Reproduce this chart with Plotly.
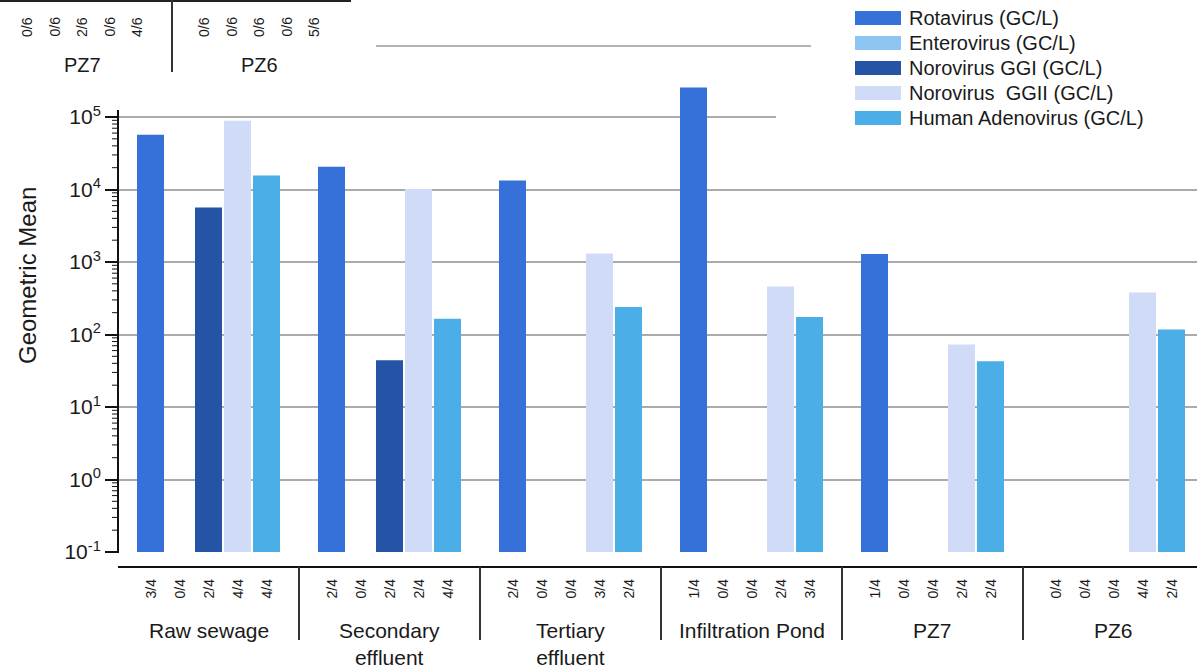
import math
import plotly.graph_objects as go

# ---- data -------------------------------------------------------------
sites = ["Raw sewage", "Secondary effluent", "Tertiary effluent",
         "Infiltration Pond", "PZ7", "PZ6"]
site_labels = ["Raw sewage", "Secondary<br>effluent", "Tertiary<br>effluent",
               "Infiltration Pond", "PZ7", "PZ6"]

series_names = ["Rotavirus (GC/L)", "Enterovirus (GC/L)", "Norovirus GGI (GC/L)",
                "Norovirus  GGII (GC/L)", "Human Adenovirus (GC/L)"]

rotavirus = [5.7e4, 2.06e4, 1.33e4, 2.55e5, 1.29e3, None]
enterovirus = [None, None, None, None, None, None]
norovirus_ggi = [5.65e3, 44, None, None, None, None]
norovirus_ggii = [8.9e4, 1.02e4, 1.31e3, 459, 73, 380]
adenovirus = [1.56e4, 165, 239, 175, 42.6, 117]

rotavirus_pos = ["3/4", "2/4", "2/4", "1/4", "1/4", "0/4"]
enterovirus_pos = ["0/4", "0/4", "0/4", "0/4", "0/4", "0/4"]
norovirus_ggi_pos = ["2/4", "2/4", "0/4", "0/4", "0/4", "0/4"]
norovirus_ggii_pos = ["4/4", "2/4", "3/4", "2/4", "2/4", "4/4"]
adenovirus_pos = ["4/4", "4/4", "2/4", "3/4", "2/4", "2/4"]

# fragment of the panel above (PZ7 / PZ6, n = 6)
upper_groups = ["PZ7", "PZ6"]
upper_pz7_pos = ["0/6", "0/6", "2/6", "0/6", "4/6"]
upper_pz6_pos = ["0/6", "0/6", "0/6", "0/6", "5/6"]

y_tick_exp = [-1, 0, 1, 2, 3, 4, 5]

values = [rotavirus, enterovirus, norovirus_ggi, norovirus_ggii, adenovirus]
positives = [rotavirus_pos, enterovirus_pos, norovirus_ggi_pos,
             norovirus_ggii_pos, adenovirus_pos]
colors = ["#3571d9", "#8cc5f2", "#2554a6", "#d0dcf7", "#4baee7"]

# ---- geometry ---------------------------------------------------------
W, H = 1197, 668
ML, MR, MT, MB = 118, 0, 70, 116
PW, PH = W - ML - MR, H - MT - MB
GROUP_PX = 181.0          # pixels per site group
DECADE_PX = 72.5          # pixels per decade on the y axis
SLOT = 29.0 / GROUP_PX    # distance between neighbouring bars
BAR_W = 27.0 / GROUP_PX   # bar width
Y_MIN = y_tick_exp[0]
Y_MAX = Y_MIN + PH / DECADE_PX


def px(x):
    return (x - ML) / PW


def py(y):
    return (H - MB - y) / PH


def ylog(v):
    """paper y of a data value on the log axis"""
    return (math.log10(v) - Y_MIN) / (Y_MAX - Y_MIN)


FONT = "Liberation Sans, Arial, sans-serif"
TXT = "#1a1a1a"

fig = go.Figure()
for i, (name, vals, col) in enumerate(zip(series_names, values, colors)):
    fig.add_trace(go.Bar(
        x=sites, y=vals, name=name,
        marker=dict(color=col, line=dict(width=0)),
        offset=(i - 2) * SLOT - BAR_W / 2, width=BAR_W,
        showlegend=False,
    ))

annotations = []
shapes = []

# detection counts under each bar slot
for i, pos in enumerate(positives):
    for k, lab in enumerate(pos):
        annotations.append(dict(
            x=k + (i - 2) * SLOT, xref="x", y=py(589), yref="paper",
            text=lab, textangle=-90, showarrow=False,
            xanchor="center", yanchor="middle",
            font=dict(size=14, family=FONT, color=TXT)))

# site labels
for k, lab in enumerate(site_labels):
    annotations.append(dict(
        x=k, xref="x", y=py(617), yref="paper", text=lab, showarrow=False,
        xanchor="center", yanchor="top", align="center",
        font=dict(size=21, family=FONT, color=TXT)))

# x-axis line and group separators
shapes.append(dict(type="line", xref="paper", yref="paper",
                   x0=0, x1=1, y0=py(567), y1=py(567),
                   line=dict(color="#111111", width=2)))
for k in range(len(sites) - 1):
    shapes.append(dict(type="line", xref="x", yref="paper",
                       x0=k + 0.5, x1=k + 0.5, y0=py(567), y1=py(640),
                       line=dict(color="#333333", width=2)))

# y-axis line with log minor ticks (stop just above the top decade)
shapes.append(dict(type="line", xref="paper", yref="paper",
                   x0=0, x1=0, y0=py(553), y1=py(110),
                   line=dict(color="#111111", width=2)))
for e in y_tick_exp[:-1]:
    for d in range(2, 10):
        yv = ylog(d * 10.0 ** e)
        shapes.append(dict(type="line", xref="paper", yref="paper",
                           x0=px(ML - 6), x1=0, y0=yv, y1=yv,
                           line=dict(color="#111111", width=1)))

# y-axis title
annotations.append(dict(
    x=px(27), xref="paper", y=py(276), yref="paper",
    text="Geometric Mean", textangle=-90, showarrow=False,
    xanchor="center", yanchor="middle",
    font=dict(size=24, family=FONT, color=TXT)))

# legend box
shapes.append(dict(type="rect", xref="paper", yref="paper", layer="above",
                   x0=px(776), x1=px(W), y0=py(0), y1=py(148),
                   fillcolor="white", line=dict(width=0)))
for i, (name, col) in enumerate(zip(series_names, colors)):
    yc = 18 + 25 * i
    shapes.append(dict(type="rect", xref="paper", yref="paper", layer="above",
                       x0=px(855), x1=px(901), y0=py(yc - 7), y1=py(yc + 7),
                       fillcolor=col, line=dict(width=0)))
    annotations.append(dict(
        x=px(907), xref="paper", y=py(yc), yref="paper", text=name,
        showarrow=False, xanchor="left", yanchor="middle",
        font=dict(size=20, family=FONT, color=TXT)))

# upper panel fragment
shapes.append(dict(type="line", xref="paper", yref="paper", layer="above",
                   x0=px(0), x1=px(351), y0=py(1), y1=py(1),
                   line=dict(color="#222222", width=2)))
shapes.append(dict(type="line", xref="paper", yref="paper", layer="above",
                   x0=px(172), x1=px(172), y0=py(0), y1=py(72),
                   line=dict(color="#333333", width=2)))
shapes.append(dict(type="line", xref="paper", yref="paper", layer="above",
                   x0=px(376), x1=px(811), y0=py(46), y1=py(46),
                   line=dict(color="#b4b4b4", width=2)))
upper_centers = [82, 259]
for g, (grp, pos) in enumerate(zip(upper_groups, [upper_pz7_pos, upper_pz6_pos])):
    for i, lab in enumerate(pos):
        annotations.append(dict(
            x=px(upper_centers[g] + (i - 2) * 27.5), xref="paper",
            y=py(27), yref="paper", text=lab, textangle=-90, showarrow=False,
            xanchor="center", yanchor="middle",
            font=dict(size=14, family=FONT, color=TXT)))
    annotations.append(dict(
        x=px(upper_centers[g]), xref="paper", y=py(65), yref="paper",
        text=grp, showarrow=False, xanchor="center", yanchor="middle",
        font=dict(size=20, family=FONT, color=TXT)))

fig.update_layout(
    width=W, height=H,
    margin=dict(l=ML, r=MR, t=MT, b=MB, pad=0),
    paper_bgcolor="white", plot_bgcolor="white",
    barmode="overlay",
    font=dict(family=FONT, color=TXT),
    xaxis=dict(
        type="category", range=[-0.5, -0.5 + PW / GROUP_PX],
        showticklabels=False, ticks="", showgrid=False, showline=False,
        zeroline=False, fixedrange=True),
    yaxis=dict(
        type="log", range=[Y_MIN, Y_MAX],
        tickmode="array",
        tickvals=[10.0 ** e for e in y_tick_exp],
        ticktext=["10<sup>%s</sup>" % ("-" + str(-e) if e < 0 else str(e))
                  for e in y_tick_exp],
        ticks="outside", ticklen=12, tickwidth=1.5, tickcolor="#111111",
        tickfont=dict(size=21, family=FONT, color=TXT),
        showgrid=True, gridcolor="#ababab", gridwidth=1.6,
        showline=False, zeroline=False,
        fixedrange=True),
    annotations=annotations,
    shapes=shapes,
)

fig.write_html("out.html")
